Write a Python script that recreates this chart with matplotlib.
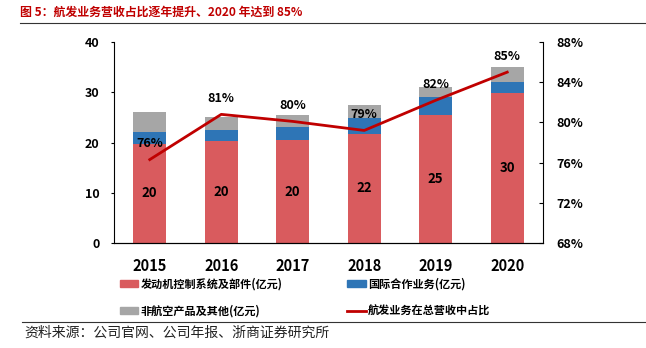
import numpy as np
import matplotlib
matplotlib.use("Agg")
import matplotlib.pyplot as plt
from matplotlib.patches import Patch
from matplotlib.lines import Line2D

plt.rcParams['font.family'] = ['Noto Sans CJK SC', 'DejaVu Sans']

years = ['2015', '2016', '2017', '2018', '2019', '2020']
engine = [19.8, 20.3, 20.5, 21.7, 25.5, 29.8]
intl = [2.2, 2.2, 2.5, 3.2, 3.6, 2.2]
other = [4.0, 2.5, 2.5, 2.6, 1.9, 3.0]
engine_labels = ['20', '20', '20', '22', '25', '30']
share = [76.3, 80.8, 80.1, 79.2, 82.2, 85.0]
share_labels = ['76%', '81%', '80%', '79%', '82%', '85%']

c_red = '#D95B5E'
c_blue = '#2E75B6'
c_gray = '#A6A6A6'
c_line = '#C00000'

fig = plt.figure(figsize=(6.46, 3.48), dpi=100)
ax = fig.add_axes([0.1765, 0.3017, 0.664, 0.5776])

x = np.arange(len(years))
w = 0.46
engine = np.array(engine)
intl = np.array(intl)
other = np.array(other)
ax.bar(x, engine, w, color=c_red, zorder=2)
ax.bar(x, intl, w, bottom=engine, color=c_blue, zorder=2)
ax.bar(x, other, w, bottom=engine + intl, color=c_gray, zorder=2)
for xi, v, lab in zip(x, engine, engine_labels):
    ax.text(xi, v / 2, lab, ha='center', va='center', fontsize=9.5, fontweight='bold')

ax.set_xlim(-0.5, len(years) - 0.5)
ax.set_ylim(0, 40)
ax.set_yticks([0, 10, 20, 30, 40])
ax.set_xticks(x)
ax.set_xticklabels(years, fontsize=10.5, fontweight='bold')
ax.tick_params(axis='x', length=0, pad=11)
ax.tick_params(axis='y', length=2.5, labelsize=9, pad=8)
for t in ax.get_yticklabels():
    t.set_fontweight('bold')
ax.spines['top'].set_visible(False)
ax.spines['right'].set_visible(False)

ax2 = ax.twinx()
ax2.plot(x, share, color=c_line, lw=2, zorder=3)
for xi, v, lab in zip(x, share, share_labels):
    ax2.annotate(lab, (xi, v), xytext=(0, 11.5), textcoords='offset points',
                 ha='center', va='center', fontsize=9, fontweight='bold')
ax2.set_ylim(68, 88)
ax2.set_yticks([68, 72, 76, 80, 84, 88])
ax2.set_yticklabels([f'{t}%' for t in [68, 72, 76, 80, 84, 88]])
ax2.tick_params(axis='y', direction='in', length=3, labelsize=9, pad=10)
for t in ax2.get_yticklabels():
    t.set_fontweight('bold')
ax2.spines['top'].set_visible(False)
ax2.spines['left'].set_visible(False)

handles = [Patch(color=c_red), Patch(color=c_gray), Patch(color=c_blue),
           Line2D([], [], color=c_line, lw=2)]
labels = ['发动机控制系统及部件(亿元)', '非航空产品及其他(亿元)',
          '国际合作业务(亿元)', '航发业务在总营收中占比']
fig.legend(handles, labels, ncol=2, loc='upper left', bbox_to_anchor=(0.185, 0.203),
           frameon=False, handlelength=1.7, handleheight=0.6, handletextpad=0.2,
           columnspacing=5.8, labelspacing=1.3,
           prop={'size': 8, 'weight': 'bold'}, borderaxespad=0, borderpad=0)

fig.text(0.031, 0.965, '图 5：航发业务营收占比逐年提升、2020 年达到 85%', color='#C00000',
         fontsize=8.6, fontweight='bold', ha='left', va='center')
fig.add_artist(Line2D([0.031, 1.0], [0.934, 0.934], color='#333333', lw=0.8))
fig.add_artist(Line2D([0.034, 1.0], [0.075, 0.075], color='#333333', lw=0.8))
fig.text(0.038, 0.043, '资料来源：公司官网、公司年报、浙商证券研究所', fontsize=10,
         ha='left', va='center', color='#222222')

fig.savefig('out.png', dpi=100)
